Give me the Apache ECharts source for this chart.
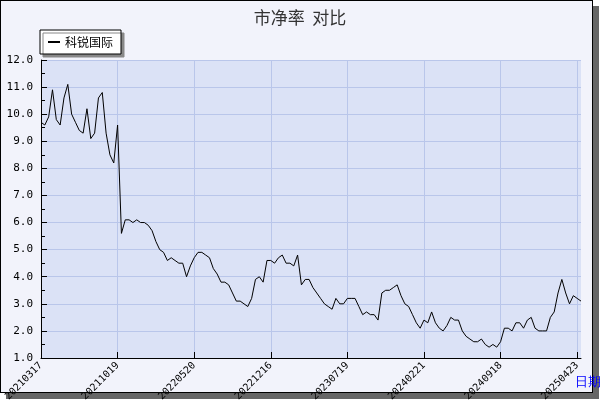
<!DOCTYPE html>
<html><head><meta charset="utf-8">
<script src="https://cdn.jsdelivr.net/npm/echarts@6/dist/echarts.min.js"></script>
<style>
body{margin:0;background:#fff;}
#wrap{position:absolute;left:0;top:0;width:591px;height:391px;border:1px solid #000;background:#f2f3fb;box-shadow:6px 6px 0 #666;}
#c{position:absolute;left:0;top:0;width:600px;height:400px;}
</style></head><body>
<div id="wrap"></div><div id="c"></div>
<script>
const tickLabels=['20210317','20211019','20220520','20221216','20230719','20240221','20240918','20250423'];
const values=[9.7,9.6,9.9,10.9,9.8,9.6,10.6,11.1,10.0,9.7,9.4,9.3,10.2,9.1,9.3,10.6,10.8,9.3,8.5,8.2,
9.6,5.6,6.1,6.1,6.0,6.1,6.0,6.0,5.9,5.7,5.3,5.0,4.9,4.6,4.7,4.6,4.5,4.5,4.0,4.4,
4.7,4.9,4.9,4.8,4.7,4.3,4.1,3.8,3.8,3.7,3.4,3.1,3.1,3.0,2.9,3.2,3.9,4.0,3.8,4.6,
4.6,4.5,4.7,4.8,4.5,4.5,4.4,4.8,3.7,3.9,3.9,3.6,3.4,3.2,3.0,2.9,2.8,3.2,3.0,3.0,
3.2,3.2,3.2,2.9,2.6,2.7,2.6,2.6,2.4,3.4,3.5,3.5,3.6,3.7,3.3,3.0,2.9,2.6,2.3,2.1,
2.4,2.3,2.7,2.3,2.1,2.0,2.2,2.5,2.4,2.4,2.0,1.8,1.7,1.6,1.6,1.7,1.5,1.4,1.5,1.4,
1.6,2.1,2.1,2.0,2.3,2.3,2.1,2.4,2.5,2.1,2.0,2.0,2.0,2.5,2.7,3.4,3.9,3.4,3.0,3.3,
3.2,3.1];
const step=20;
const categories=values.map((v,i)=> i%step===0 ? tickLabels[i/step] : String(i));
const chart=echarts.init(document.getElementById('c'));
chart.setOption({
  animation:false,
  title:{text:'市净率  对比',left:'center',top:4,textStyle:{fontSize:17,fontWeight:'normal',color:'#333',fontFamily:'Noto Sans CJK SC'}},
  legend:{left:40,top:30,itemWidth:12,itemHeight:2,backgroundColor:'#fff',borderColor:'#000',borderWidth:1,padding:[6,8],
    shadowColor:'#888',shadowOffsetX:3,shadowOffsetY:3,shadowBlur:0,
    textStyle:{fontSize:12,color:'#000',fontFamily:'Noto Sans CJK SC'},data:[{name:'科锐国际',icon:'rect'}]},
  grid:{left:41,right:19,top:60,bottom:42,show:true,backgroundColor:'#dbe2f6',borderWidth:0,outerBoundsMode:'none',containLabel:false},
  xAxis:{type:'category',data:categories,boundaryGap:false,
    axisLine:{lineStyle:{color:'#000'}},
    axisTick:{interval:(i)=>i%step===0,length:-6,lineStyle:{color:'#000'}},
    axisLabel:{interval:(i)=>i%step===0,rotate:45,fontSize:10,color:'#000',fontFamily:'DejaVu Sans Mono',margin:6},
    splitLine:{show:true,interval:(i)=>i%step===0,lineStyle:{color:'#b9c6ea'}},
    name:'日期',nameLocation:'end',nameGap:-26,nameTextStyle:{color:'#0000ff',fontSize:13,verticalAlign:'top',padding:[18,0,0,0]}},
  yAxis:{type:'value',min:1,max:12,interval:1,
    axisLine:{show:true,lineStyle:{color:'#000'}},
    axisTick:{show:true,inside:true,length:6,lineStyle:{color:'#000'}},
    minorTick:{show:true,splitNumber:2,length:4,lineStyle:{color:'#000'}},
    axisLabel:{formatter:v=>v.toFixed(1),fontSize:11,color:'#000',fontFamily:'DejaVu Sans Mono'},
    splitLine:{lineStyle:{color:'#b9c6ea'}}},
  series:[{name:'科锐国际',type:'line',data:values,showSymbol:false,lineStyle:{color:'#000',width:1},itemStyle:{color:'#000'}}]
});
</script></body></html>
